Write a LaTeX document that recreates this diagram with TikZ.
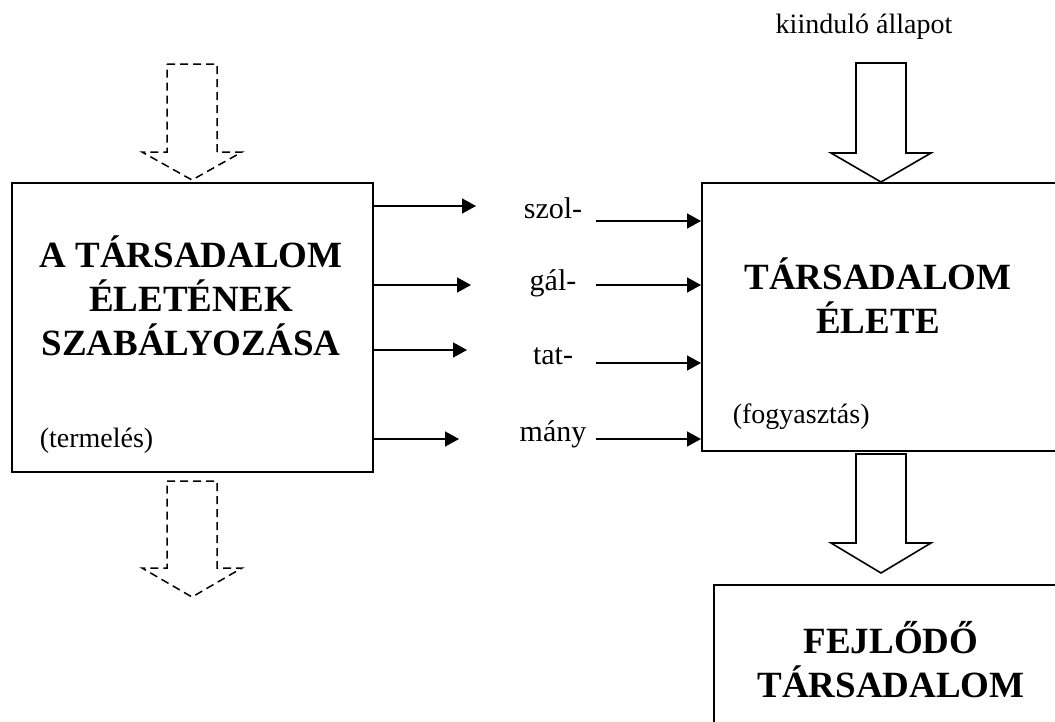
\documentclass[tikz,border=0pt]{standalone}
\usepackage{fontspec}
\setmainfont{Liberation Serif}
\usetikzlibrary{arrows.meta, positioning}

% block arrow pointing down: centre x, shaft top, head base, tip
\newcommand{\downblock}[5][]{%
  \draw[#1] (#2-25,#3) -- (#2+25,#3) -- (#2+25,#4) -- (#2+50,#4)
    -- (#2,#5) -- (#2-50,#4) -- (#2-25,#4) -- cycle;}

\begin{document}
\begin{tikzpicture}[x=1pt,y=-1pt,line width=1.6pt,
  >={Triangle[length=14pt,width=15pt]},
  frame/.style={draw,rectangle,anchor=north west,inner sep=0pt},
  title/.style={inner sep=0pt,anchor=base,align=center,
    font=\fontsize{37}{44}\selectfont\bfseries},
  word/.style={inner sep=0pt,anchor=base,font=\fontsize{30}{36}\selectfont},
  note/.style={inner sep=0pt,anchor=base west,font=\fontsize{28}{34}\selectfont},
  ghost/.style={dash pattern=on 8pt off 5pt,line width=1.5pt}]
  \useasboundingbox (0,0) rectangle (1055,721);
  \clip (0,0) rectangle (1055,721);

  \node[frame,minimum width=361pt,minimum height=289pt] (rule) at (11,182) {};
  \node[frame,minimum width=400pt,minimum height=268pt] (life) at (701,182) {};
  \node[frame,minimum width=400pt,minimum height=200pt] (dev) at (713,584) {};

  % base anchor sits on the last line
  \node[title] (rulet) at (191,355) {A TÁRSADALOM\\ÉLETÉNEK\\SZABÁLYOZÁSA};
  \node[title] (lifet) at (878,333) {TÁRSADALOM\\ÉLETE};
  \node[title] (devt) at (891,697) {FEJLŐDŐ\\TÁRSADALOM};

  \node[note] (prod) at (39,447) {(termelés)};
  \node[note] (cons) at (732,423) {(fogyasztás)};
  \node[inner sep=0pt,anchor=base,font=\fontsize{28}{34}\selectfont] (start)
    at (864,33) {kiinduló állapot};

  %service words
  \node[word] (w1) at (553,218) {szol-};
  \node[word] (w2) at (553,290) {gál-};
  \node[word] (w3) at (553,364) {tat-};
  \node[word] (w4) at (553,441) {mány};

  %left arrows
  \coordinate (a1) at (476,206);
  \coordinate (a2) at (471,285);
  \coordinate (a3) at (467,350);
  \coordinate (a4) at (459,439);
  \foreach \i in {1,...,4}
    \draw[->] (rule.east |- a\i) -- (a\i);

  %right arrows
  \coordinate (b1) at (596,221);
  \coordinate (b2) at (596,285);
  \coordinate (b3) at (596,363);
  \coordinate (b4) at (596,439);
  \foreach \i in {1,...,4}
    \draw[->] (b\i) -- (life.west |- b\i);

  \downblock{881}{63}{153}{182}
  \downblock{881}{454}{543}{573}
  \downblock[ghost]{192}{64}{152}{180}
  \downblock[ghost]{192}{481}{568}{597}
\end{tikzpicture}
\end{document}
